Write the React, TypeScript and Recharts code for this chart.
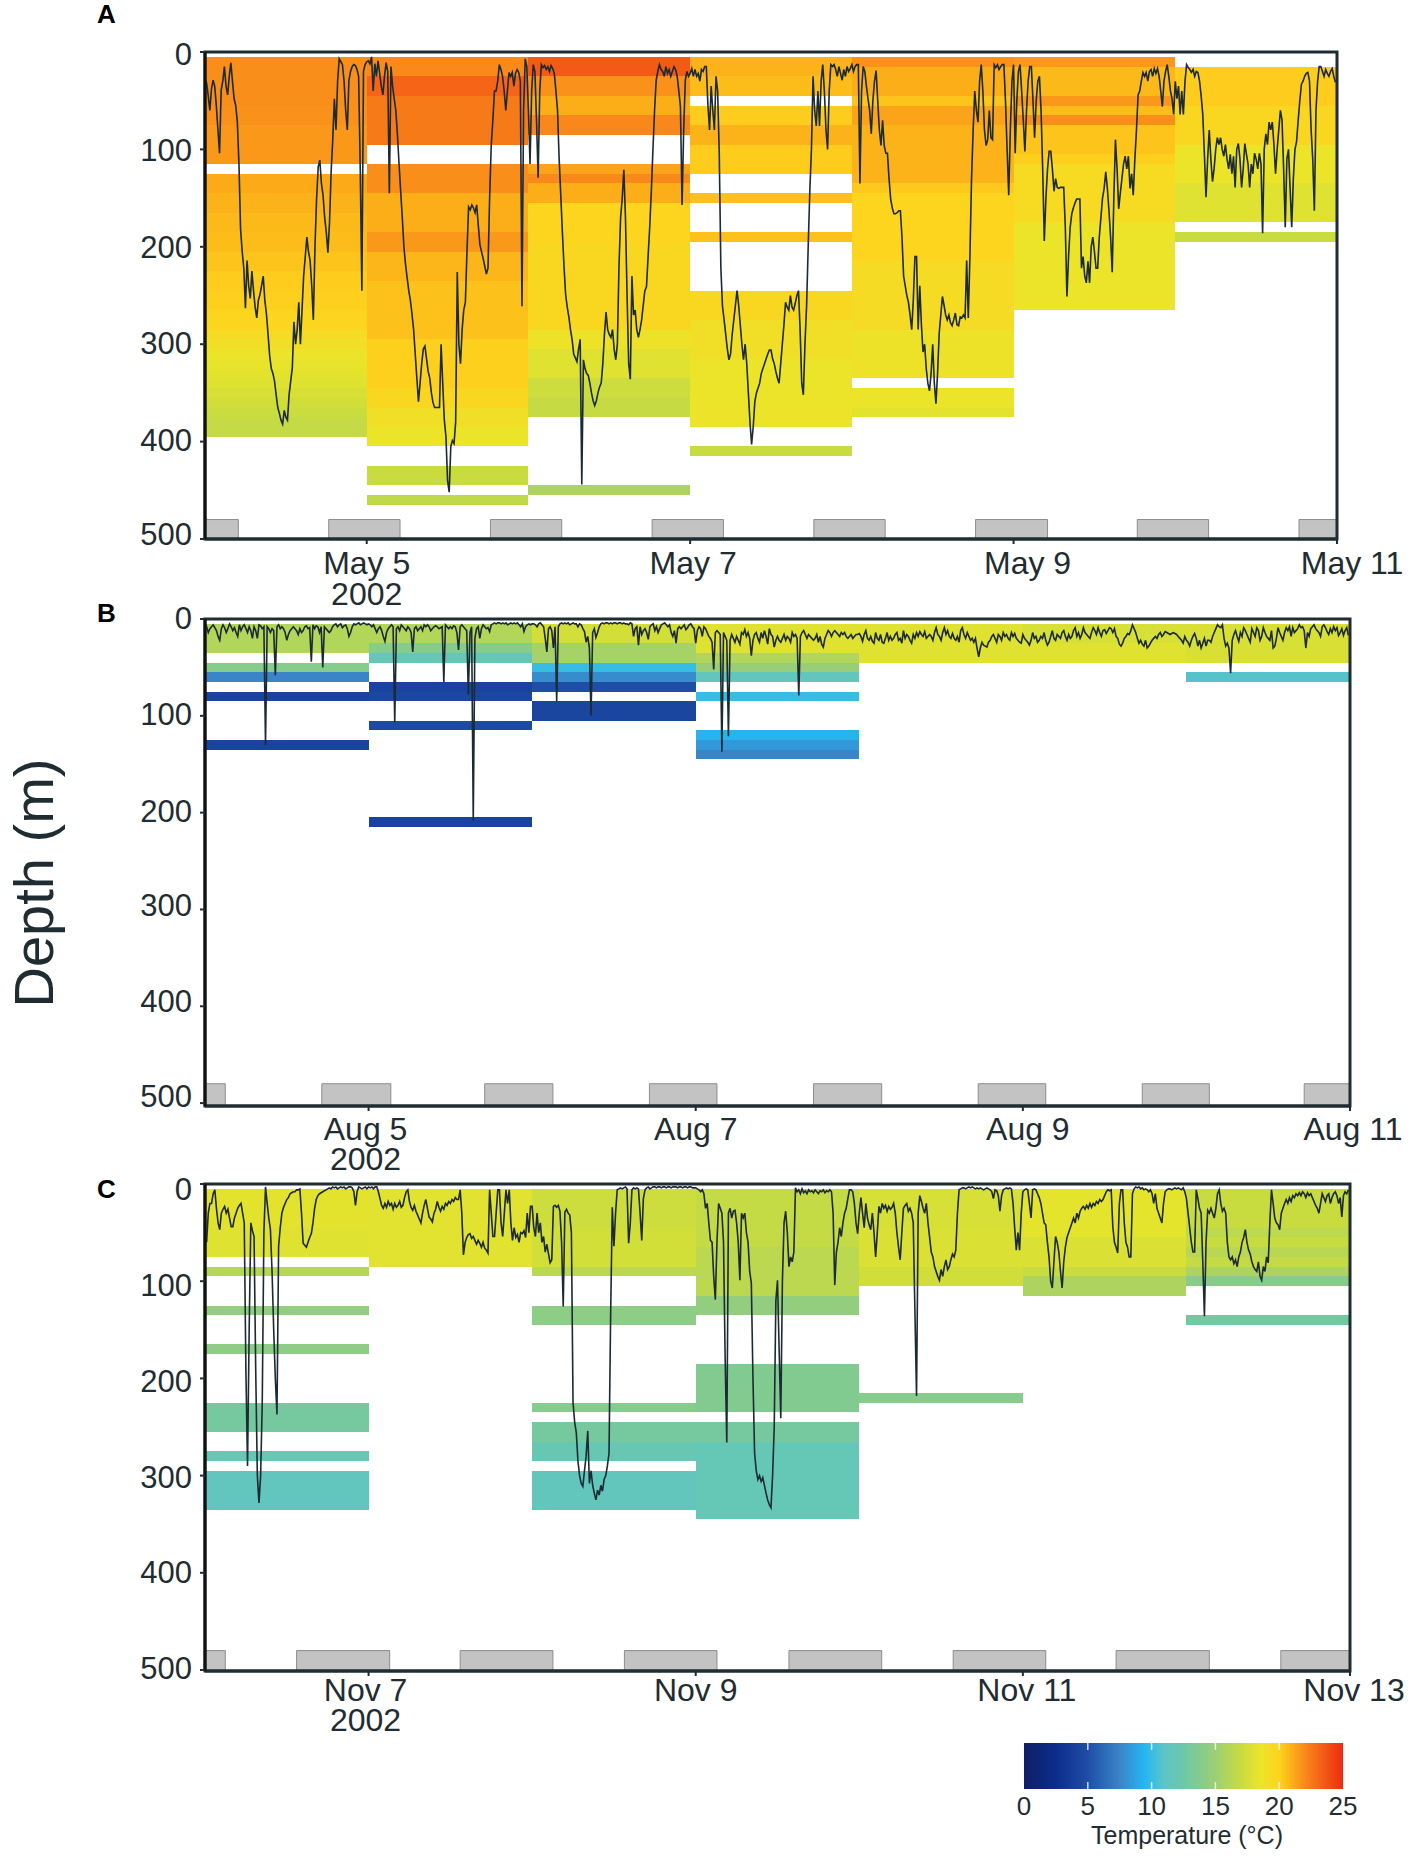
import { ComposedChart, Line, ReferenceArea, ReferenceLine, XAxis, YAxis } from "recharts";

const FONT = "'Liberation Sans', Arial, sans-serif";
const INK = "#1f2d33";

// temperature colour ramp
const rampTemps = [0, 2.5, 5, 7.5, 9.5, 11, 12.5, 15, 17, 18.5, 20, 21, 22, 25];
const rampColors = ["#0f1f66", "#0c2c8c", "#1f4ea6", "#3a84c8", "#24b8f2", "#5ec5c6", "#6cc8a8", "#9ccf74", "#c8dc40", "#eae52a", "#fdd41e", "#fcae18", "#f98a1a", "#ee2a12"];

const hex = (c: string) => [1, 3, 5].map((i) => parseInt(c.slice(i, i + 2), 16));

function tempColor(t: number) {
  let i = 0;
  while (i < rampTemps.length - 2 && t > rampTemps[i + 1]) i++;
  const f = Math.max(0, Math.min(1, (t - rampTemps[i]) / (rampTemps[i + 1] - rampTemps[i])));
  const a = hex(rampColors[i]);
  const b = hex(rampColors[i + 1]);
  return `rgb(${a.map((v, k) => Math.round(v + (b[k] - v) * f)).join(",")})`;
}

// one list per day: [top depth, bottom depth, temperature]
const bandsA = [
  [[5, 55, 21.9], [55, 75, 21.8], [75, 115, 21.6], [125, 145, 21.1], [145, 165, 20.9], [165, 185, 20.7], [185, 205, 20.6], [205, 225, 20.4], [225, 245, 20.2], [245, 265, 20.1], [265, 285, 19.9], [285, 295, 19.4], [295, 305, 19], [305, 315, 18.7], [315, 325, 18.4], [325, 335, 18.2], [335, 345, 18], [345, 355, 17.7], [355, 365, 17.4], [365, 375, 17.1], [375, 395, 16.8]],
  [[5, 25, 22], [25, 45, 23.2], [45, 95, 22.5], [115, 145, 21.9], [145, 185, 21], [185, 205, 21.6], [205, 235, 20.8], [235, 295, 20.5], [295, 345, 20.1], [345, 365, 19.7], [365, 385, 19], [385, 405, 18.6], [425, 445, 17], [455, 465, 16.6]],
  [[5, 25, 23.5], [25, 45, 21.8], [45, 65, 21], [65, 85, 22.1], [115, 125, 21.3], [125, 135, 22], [135, 155, 21], [155, 195, 20], [195, 285, 19.7], [285, 305, 18.8], [305, 335, 18], [335, 355, 17.2], [355, 375, 16.9], [445, 455, 15.8]],
  [[5, 25, 20.9], [25, 45, 20.6], [55, 75, 20.2], [75, 95, 20.9], [95, 125, 20.2], [145, 155, 20.5], [185, 195, 20.5], [245, 275, 19.7], [275, 315, 19], [315, 385, 18.6], [405, 415, 17]],
  [[5, 15, 21.8], [15, 45, 21], [45, 55, 20.4], [55, 75, 21.3], [75, 135, 20.9], [135, 145, 20.3], [145, 215, 20], [215, 285, 19.4], [285, 335, 18.8], [345, 365, 18.6], [365, 375, 18.2]],
  [[5, 15, 21.6], [15, 45, 20.7], [45, 55, 21.6], [55, 65, 20.6], [65, 75, 21.9], [75, 105, 20.4], [105, 115, 20.1], [115, 175, 19.5], [175, 265, 18.6]],
  [[15, 55, 20.2], [55, 95, 19.7], [95, 135, 18.6], [135, 175, 18], [185, 195, 17]],
];

const bandsB = [
  [[5, 35, 16], [45, 55, 13.8], [55, 65, 7.5], [75, 85, 4.2], [125, 135, 4.2]],
  [[5, 25, 16], [25, 35, 13.8], [35, 45, 11.8], [65, 75, 4.2], [75, 85, 4.5], [105, 115, 4.8], [205, 215, 4.2]],
  [[5, 25, 17.5], [25, 45, 15.5], [45, 55, 10], [55, 65, 7.8], [65, 75, 5], [85, 105, 4.4]],
  [[5, 35, 18], [35, 45, 16], [45, 55, 14.8], [55, 65, 11.5], [75, 85, 10], [115, 125, 9.3], [125, 135, 8.3], [135, 145, 7.5]],
  [[5, 45, 18]],
  [[5, 25, 17.6], [25, 45, 18]],
  [[5, 45, 17.7], [55, 65, 10.8]],
];

const bandsC = [
  [[5, 45, 18.2], [45, 75, 18], [85, 95, 16.2], [125, 135, 14.5], [165, 175, 14.2], [225, 255, 13], [275, 285, 12], [295, 335, 11.4]],
  [[5, 85, 18.1]],
  [[5, 45, 17.2], [45, 85, 17.5], [85, 95, 16.4], [125, 145, 14.2], [225, 235, 13.8], [245, 265, 13], [265, 285, 12], [295, 335, 11.5]],
  [[5, 65, 16.8], [65, 115, 16.4], [115, 135, 14.5], [185, 235, 13.6], [245, 265, 13], [265, 345, 11.8]],
  [[5, 45, 17.6], [45, 85, 17.8], [85, 105, 17.4], [215, 225, 13.8]],
  [[5, 55, 18.3], [55, 85, 17.8], [85, 95, 17], [95, 115, 15.8]],
  [[5, 45, 17], [45, 55, 16.5], [55, 65, 17], [65, 75, 16.3], [75, 85, 16.8], [85, 95, 15.8], [95, 105, 14], [135, 145, 12.8]],
];

// night periods, in days from the left edge of each panel
const nightsA = [[0, 0.206], [0.765, 1.206], [1.765, 2.206], [2.765, 3.206], [3.765, 4.206], [4.765, 5.21], [5.765, 6.206], [6.765, 7]];
const nightsB = [[0, 0.124], [0.714, 1.136], [1.71, 2.127], [2.717, 3.13], [3.72, 4.137], [4.727, 5.14], [5.73, 6.14], [6.72, 7]];
const nightsC = [[0, 0.124], [0.56, 1.129], [1.56, 2.127], [2.564, 3.13], [3.57, 4.137], [4.574, 5.14], [5.57, 6.14], [6.577, 7]];

// tag depth at even steps, one row per day
const traceA = [
  [28, 32, 45, 60, 38, 29, 35, 55, 80, 104, 39, 30, 15, 35, 44, 25, 11, 30, 48, 55, 72, 115, 182, 205, 222, 263, 214, 240, 253, 225, 245, 262, 273, 255, 249, 240, 230, 255, 269, 290, 312, 325, 330, 338, 352, 365, 371, 378, 382, 368, 375, 378, 352, 338, 324, 277, 300, 285, 257, 300, 265, 230, 210, 190, 205, 214, 240, 275, 200, 151, 118, 111, 135, 147, 170, 185, 206, 175, 123, 90, 48, 80, 30, 7, 10, 13, 30, 60, 80, 29, 20, 15, 13, 14, 18, 25, 120, 245, 20, 13],
  [10, 9, 12, 5, 40, 12, 25, 9, 22, 35, 44, 25, 11, 20, 145, 15, 35, 48, 60, 85, 115, 143, 170, 200, 218, 232, 245, 255, 269, 285, 310, 335, 359, 340, 320, 305, 302, 315, 328, 335, 350, 360, 365, 365, 365, 365, 300, 340, 378, 395, 440, 452, 405, 399, 402, 380, 226, 300, 320, 285, 265, 257, 205, 159, 162, 157, 160, 165, 157, 178, 198, 205, 212, 220, 228, 222, 150, 96, 70, 40, 40, 30, 13, 18, 25, 40, 60, 40, 21, 25, 21, 35, 22, 18, 21, 30, 261, 60, 7, 15],
  [60, 115, 40, 13, 20, 70, 129, 40, 13, 16, 14, 18, 15, 20, 14, 17, 22, 40, 60, 110, 147, 185, 220, 249, 262, 272, 285, 295, 310, 314, 318, 305, 295, 444, 316, 325, 330, 332, 340, 350, 358, 363, 358, 350, 344, 340, 320, 290, 267, 285, 290, 293, 285, 305, 316, 300, 220, 170, 150, 121, 170, 250, 320, 336, 230, 270, 265, 285, 293, 285, 275, 260, 245, 241, 210, 180, 143, 100, 60, 29, 20, 13, 18, 20, 25, 15, 22, 18, 25, 20, 15, 18, 25, 40, 56, 157, 80, 29, 20, 25],
  [22, 17, 25, 18, 25, 22, 30, 18, 20, 15, 15, 55, 80, 35, 60, 80, 25, 40, 104, 222, 261, 275, 290, 305, 316, 310, 290, 275, 260, 245, 260, 280, 300, 316, 300, 320, 350, 380, 403, 385, 359, 350, 345, 340, 330, 325, 320, 315, 310, 306, 306, 315, 320, 328, 335, 340, 320, 300, 280, 257, 262, 265, 250, 262, 265, 258, 250, 245, 285, 340, 352, 300, 261, 200, 143, 100, 25, 60, 76, 40, 76, 30, 13, 40, 80, 100, 40, 13, 15, 13, 18, 25, 15, 22, 29, 18, 25, 15, 20, 17],
  [13, 20, 15, 13, 13, 135, 40, 15, 20, 35, 48, 60, 84, 50, 30, 19, 50, 80, 96, 70, 96, 104, 104, 130, 151, 160, 166, 166, 165, 163, 163, 190, 230, 240, 250, 257, 270, 285, 255, 210, 210, 285, 240, 280, 308, 300, 325, 340, 348, 330, 300, 340, 361, 330, 289, 270, 251, 260, 270, 275, 270, 278, 281, 275, 268, 280, 281, 272, 273, 270, 273, 214, 273, 210, 131, 80, 40, 60, 72, 30, 13, 40, 80, 96, 90, 60, 88, 90, 13, 16, 13, 18, 15, 13, 13, 50, 100, 147, 80, 30],
  [13, 104, 50, 20, 13, 40, 70, 102, 60, 30, 15, 15, 50, 88, 50, 30, 25, 60, 120, 194, 150, 120, 102, 102, 120, 143, 130, 139, 140, 139, 139, 139, 180, 251, 210, 180, 166, 160, 155, 151, 151, 151, 222, 210, 230, 237, 215, 237, 200, 190, 205, 222, 222, 190, 170, 150, 140, 123, 140, 163, 190, 226, 150, 90, 120, 161, 145, 130, 115, 107, 120, 107, 140, 125, 147, 110, 80, 44, 40, 30, 21, 25, 21, 30, 20, 18, 25, 17, 22, 17, 25, 40, 56, 30, 20, 13, 25, 40, 48, 64],
  [30, 48, 35, 64, 40, 64, 30, 13, 16, 18, 21, 18, 25, 20, 21, 30, 45, 64, 105, 149, 110, 80, 110, 133, 120, 100, 88, 95, 88, 100, 107, 95, 110, 120, 105, 125, 107, 139, 100, 94, 110, 139, 120, 94, 105, 115, 139, 115, 125, 104, 110, 120, 104, 115, 186, 100, 84, 95, 72, 80, 72, 95, 125, 100, 80, 60, 70, 120, 180, 110, 100, 140, 180, 130, 100, 92, 70, 50, 33, 30, 25, 22, 21, 30, 80, 110, 163, 60, 30, 15, 15, 20, 25, 18, 22, 25, 20, 17, 25, 31],
];

const traceB = [
  [4, 8, 14, 10, 8, 6, 9, 12, 18, 22, 10, 6, 9, 14, 10, 5, 8, 12, 9, 14, 18, 6, 12, 8, 6, 10, 14, 8, 12, 20, 8, 12, 20, 6, 7, 10, 8, 130, 8, 10, 14, 10, 12, 58, 8, 6, 10, 8, 10, 14, 22, 16, 12, 10, 8, 10, 12, 16, 10, 14, 12, 8, 7, 10, 9, 44, 6, 10, 7, 8, 14, 8, 50, 8, 10, 12, 14, 12, 8, 6, 5, 8, 6, 5, 9, 7, 6, 10, 18, 14, 8, 5, 6, 5, 4, 6, 5, 4, 5, 6],
  [5, 6, 8, 6, 10, 14, 10, 8, 12, 18, 23, 14, 10, 8, 6, 8, 107, 10, 8, 12, 6, 8, 10, 12, 8, 10, 14, 34, 10, 8, 12, 10, 8, 12, 6, 8, 6, 8, 12, 10, 8, 7, 8, 10, 9, 8, 65, 6, 8, 10, 8, 10, 7, 8, 14, 32, 8, 6, 8, 10, 12, 78, 14, 8, 208, 20, 10, 8, 20, 10, 6, 8, 10, 9, 13, 6, 5, 4, 5, 4, 4, 5, 4, 5, 4, 6, 5, 4, 5, 4, 5, 4, 6, 8, 5, 13, 8, 6, 5, 6],
  [5, 5, 6, 8, 5, 4, 6, 8, 20, 34, 10, 8, 12, 30, 8, 85, 8, 5, 4, 5, 4, 5, 4, 6, 5, 4, 5, 5, 8, 5, 6, 10, 13, 24, 18, 30, 100, 14, 10, 19, 14, 8, 5, 4, 5, 4, 4, 5, 4, 5, 4, 4, 5, 4, 4, 5, 4, 5, 5, 6, 4, 5, 18, 10, 8, 27, 8, 16, 12, 10, 14, 21, 8, 6, 5, 12, 8, 14, 10, 6, 5, 4, 6, 8, 6, 14, 18, 12, 25, 10, 8, 10, 8, 6, 11, 9, 6, 5, 8, 10],
  [25, 12, 8, 10, 18, 8, 10, 14, 18, 20, 24, 52, 14, 12, 14, 16, 137, 14, 18, 22, 121, 22, 16, 20, 24, 18, 22, 26, 14, 16, 11, 18, 14, 20, 38, 22, 16, 14, 20, 24, 14, 20, 12, 18, 26, 10, 16, 18, 29, 22, 18, 22, 24, 20, 16, 22, 18, 20, 24, 14, 18, 16, 20, 79, 18, 14, 12, 16, 20, 16, 18, 20, 22, 20, 16, 24, 18, 26, 29, 20, 16, 12, 14, 18, 14, 12, 14, 16, 18, 14, 16, 14, 18, 20, 18, 16, 20, 18, 16, 16],
  [15, 18, 23, 16, 12, 20, 22, 18, 23, 25, 14, 20, 22, 16, 24, 25, 20, 14, 22, 18, 22, 20, 16, 14, 22, 20, 25, 12, 20, 16, 18, 22, 25, 16, 20, 14, 18, 13, 16, 18, 13, 20, 18, 16, 18, 22, 14, 9, 16, 18, 22, 14, 9, 16, 12, 18, 20, 15, 20, 22, 18, 24, 12, 9, 16, 20, 14, 18, 22, 20, 24, 20, 30, 39, 30, 24, 27, 28, 29, 24, 22, 18, 16, 20, 24, 16, 18, 22, 14, 18, 16, 20, 22, 14, 18, 15, 20, 22, 24, 25],
  [16, 20, 22, 24, 27, 22, 14, 20, 18, 24, 22, 18, 20, 14, 22, 27, 24, 18, 12, 20, 22, 16, 18, 20, 14, 12, 18, 22, 16, 20, 18, 12, 9, 18, 14, 20, 16, 9, 14, 16, 18, 20, 14, 9, 12, 16, 9, 14, 18, 12, 11, 15, 12, 9, 10, 14, 10, 18, 20, 26, 28, 25, 20, 18, 15, 16, 12, 6, 10, 14, 20, 25, 22, 26, 28, 22, 30, 28, 25, 22, 20, 18, 20, 16, 14, 18, 16, 13, 14, 15, 16, 15, 14, 15, 16, 18, 20, 22, 25, 18],
  [22, 24, 28, 22, 18, 15, 20, 28, 22, 30, 25, 20, 28, 22, 22, 24, 18, 14, 10, 6, 8, 9, 6, 20, 28, 25, 30, 56, 22, 16, 12, 18, 23, 14, 18, 9, 12, 16, 20, 24, 10, 14, 18, 9, 12, 22, 18, 9, 14, 18, 20, 22, 12, 30, 28, 20, 9, 14, 18, 22, 14, 9, 12, 8, 18, 9, 14, 12, 10, 6, 9, 8, 12, 30, 14, 18, 10, 8, 6, 10, 12, 14, 18, 8, 6, 9, 13, 16, 10, 14, 8, 12, 9, 17, 14, 10, 17, 12, 9, 17],
];

const traceC = [
  [59, 59, 30, 20, 20, 10, 6, 25, 40, 47, 30, 26, 23, 30, 26, 35, 44, 44, 35, 30, 25, 22, 20, 30, 40, 191, 290, 150, 40, 48, 54, 191, 300, 328, 300, 225, 50, 3, 20, 35, 47, 90, 150, 200, 237, 64, 45, 30, 24, 20, 16, 14, 10, 9, 8, 8, 6, 6, 5, 30, 61, 63, 65, 60, 55, 51, 40, 25, 16, 12, 10, 9, 8, 7, 6, 5, 4, 5, 3, 4, 3, 5, 4, 3, 4, 3, 5, 4, 3, 3, 4, 8, 22, 8, 3, 4, 5, 4, 3, 5],
  [3, 4, 3, 5, 3, 3, 8, 15, 22, 25, 20, 24, 18, 22, 20, 26, 20, 24, 22, 18, 24, 22, 14, 8, 6, 18, 24, 27, 22, 28, 32, 36, 40, 30, 22, 16, 25, 34, 36, 39, 30, 26, 18, 24, 28, 23, 26, 20, 22, 18, 20, 16, 18, 14, 16, 16, 6, 30, 73, 60, 55, 52, 51, 56, 54, 58, 62, 58, 61, 65, 60, 66, 68, 71, 6, 30, 54, 54, 30, 6, 6, 40, 54, 30, 6, 20, 6, 40, 58, 45, 55, 52, 60, 50, 51, 48, 55, 30, 50, 23],
  [23, 45, 54, 30, 50, 40, 60, 54, 70, 62, 72, 81, 78, 23, 22, 24, 22, 28, 60, 126, 29, 26, 30, 32, 50, 225, 245, 256, 285, 300, 308, 311, 295, 280, 254, 308, 295, 310, 318, 325, 315, 320, 310, 316, 304, 300, 290, 277, 133, 24, 64, 30, 6, 5, 4, 5, 4, 3, 5, 61, 40, 6, 4, 5, 4, 5, 30, 58, 15, 6, 4, 3, 5, 4, 3, 3, 4, 3, 3, 4, 3, 3, 4, 3, 3, 4, 3, 3, 3, 4, 3, 3, 4, 3, 3, 4, 3, 3, 4, 4],
  [4, 5, 6, 8, 6, 10, 25, 20, 40, 58, 60, 95, 119, 60, 20, 25, 30, 60, 180, 266, 30, 25, 35, 28, 27, 40, 60, 99, 30, 35, 30, 50, 60, 90, 102, 200, 277, 295, 304, 300, 306, 302, 310, 318, 325, 330, 333, 300, 250, 120, 99, 170, 241, 100, 40, 28, 50, 85, 75, 80, 70, 4, 8, 6, 10, 5, 9, 7, 10, 6, 8, 7, 9, 6, 8, 10, 7, 8, 6, 9, 7, 8, 6, 8, 30, 104, 70, 60, 45, 54, 40, 30, 25, 15, 6, 6, 8, 20, 40, 51],
  [30, 14, 30, 45, 20, 35, 42, 47, 30, 50, 75, 50, 23, 30, 20, 25, 22, 28, 23, 26, 24, 20, 30, 50, 65, 78, 50, 25, 22, 20, 28, 25, 30, 40, 130, 218, 30, 12, 18, 25, 30, 20, 40, 55, 70, 75, 85, 90, 95, 99, 88, 95, 85, 78, 88, 85, 78, 72, 75, 68, 30, 6, 5, 4, 4, 5, 4, 3, 4, 3, 4, 5, 4, 5, 4, 5, 6, 5, 4, 5, 6, 8, 15, 6, 7, 12, 28, 12, 6, 5, 4, 5, 4, 5, 20, 45, 68, 50, 68, 30],
  [8, 6, 5, 6, 20, 35, 6, 5, 6, 10, 14, 20, 30, 40, 42, 60, 75, 100, 107, 80, 54, 60, 70, 90, 107, 80, 65, 55, 50, 45, 40, 35, 40, 30, 35, 28, 25, 23, 26, 22, 25, 20, 24, 20, 22, 18, 20, 16, 18, 16, 12, 8, 6, 7, 6, 44, 60, 65, 71, 20, 6, 6, 40, 60, 65, 75, 75, 10, 5, 3, 4, 3, 5, 4, 6, 5, 6, 8, 6, 10, 20, 10, 25, 30, 35, 40, 20, 8, 6, 5, 5, 6, 5, 4, 5, 4, 5, 6, 4, 8],
  [15, 30, 45, 60, 70, 70, 6, 15, 25, 30, 80, 136, 60, 27, 30, 25, 30, 35, 25, 10, 6, 20, 28, 25, 30, 60, 75, 78, 75, 82, 78, 85, 75, 70, 60, 55, 47, 60, 68, 72, 80, 85, 88, 90, 80, 95, 99, 85, 90, 75, 81, 40, 6, 20, 35, 40, 42, 47, 30, 25, 20, 16, 20, 14, 18, 12, 14, 10, 12, 9, 12, 8, 10, 14, 9, 12, 10, 14, 18, 22, 25, 30, 20, 10, 14, 18, 12, 10, 20, 14, 10, 8, 12, 20, 14, 34, 12, 8, 10, 6],
];

const depthTicks = [0, 100, 200, 300, 400, 500];
const dayTicks = [1, 3, 5, 7];
const labelsA = ["May 5", "May 7", "May 9", "May 11"];
const labelsB = ["Aug 5", "Aug 7", "Aug 9", "Aug 11"];
const labelsC = ["Nov 7", "Nov 9", "Nov 11", "Nov 13"];
const barTicks = [0, 5, 10, 15, 20, 25];

const toPoints = (trace: number[][]) =>
  trace.flatMap((row, d) => row.map((depth, i) => ({ day: d + i / row.length, depth })));

type PanelProps = {
  top: number;
  height: number;
  marginTop: number;
  plotRight: number;
  axisHeight: number;
  maxDepth: number;
  bands: number[][][];
  nights: number[][];
  trace: number[][];
  labels: string[];
  labelShift: number[];
  labelDrop: number[];
  depthShift: number[];
};

function DepthPanel(p: PanelProps) {
  const points = toPoints(p.trace);
  return (
    <div style={{ position: "absolute", left: 0, top: p.top }}>
      <ComposedChart
        width={1417}
        height={p.height}
        data={points}
        margin={{ top: p.marginTop, right: 1417 - p.plotRight, bottom: 0, left: 135 }}
      >
        <XAxis
          dataKey="day"
          type="number"
          domain={[0, 7]}
          ticks={dayTicks}
          height={p.axisHeight}
          allowDataOverflow
          tickSize={5}
          axisLine={{ stroke: INK, strokeWidth: 3 }}
          tickLine={{ stroke: INK, strokeWidth: 2 }}
          tick={(t: any) => {
            const i = dayTicks.indexOf(t.payload.value);
            return (
              <text x={t.x + p.labelShift[i]} y={t.y} textAnchor="middle" fontFamily={FONT} fontSize={32} fill={INK}>
                <tspan x={t.x + p.labelShift[i]} dy={p.labelDrop[0]}>{p.labels[i]}</tspan>
                {i === 0 ? <tspan x={t.x + p.labelShift[i]} dy={p.labelDrop[1]}>2002</tspan> : null}
              </text>
            );
          }}
        />
        <YAxis
          type="number"
          dataKey="depth"
          reversed
          domain={[0, p.maxDepth]}
          ticks={depthTicks}
          width={70}
          interval={0}
          tickSize={5}
          tickMargin={8}
          axisLine={{ stroke: "#111", strokeWidth: 3 }}
          tickLine={{ stroke: INK, strokeWidth: 2 }}
          tick={(t: any) => (
            <text
              x={t.x}
              y={t.y + p.depthShift[depthTicks.indexOf(t.payload.value)]}
              dy="0.355em"
              textAnchor="end"
              fontFamily={FONT}
              fontSize={31}
              fill={INK}
            >
              {t.payload.value}
            </text>
          )}
        />
        {p.bands.map((day, d) =>
          day.map(([from, to, temp]) => (
            <ReferenceArea
              key={`${d}-${from}`}
              x1={d}
              x2={d + 1}
              y1={from}
              y2={to}
              fill={tempColor(temp)}
              fillOpacity={1}
              stroke="none"
              shapeRendering="crispEdges"
            />
          )),
        )}
        {p.nights.map(([from, to]) => (
          <ReferenceArea
            key={`night-${from}`}
            x1={from}
            x2={to}
            y1={480}
            y2={p.maxDepth}
            fill="#c3c3c3"
            fillOpacity={1}
            stroke="#8d8d8d"
            strokeWidth={1}
          />
        ))}
        <Line
          dataKey="depth"
          type="linear"
          stroke="#1c2a33"
          strokeWidth={1.6}
          dot={false}
          activeDot={false}
          isAnimationActive={false}
        />
        <ReferenceArea x1={0} x2={7} y1={0} y2={p.maxDepth} fill="none" stroke={INK} strokeWidth={3} />
      </ComposedChart>
    </div>
  );
}

function ColorBar() {
  return (
    <div style={{ position: "absolute", left: 0, top: 1737 }}>
      <ComposedChart
        width={1417}
        height={92}
        data={barTicks.map((t) => ({ t, v: 0 }))}
        margin={{ top: 6, right: 74, bottom: 0, left: 1024 }}
      >
        <defs>
          <linearGradient id="tempRamp" x1="0" y1="0" x2="1" y2="0">
            {rampTemps.map((t, i) => (
              <stop key={t} offset={`${(t / 25) * 100}%`} stopColor={rampColors[i]} />
            ))}
          </linearGradient>
        </defs>
        <XAxis
          type="number"
          dataKey="t"
          domain={[0, 25]}
          ticks={barTicks}
          height={40}
          interval={0}
          axisLine={false}
          tickLine={false}
          tickMargin={2}
          tick={{ fontFamily: FONT, fontSize: 26, fill: INK }}
        />
        <YAxis type="number" width={0} domain={[0, 1]} hide />
        <Line dataKey="v" stroke="none" dot={false} activeDot={false} isAnimationActive={false} />
        <ReferenceArea x1={0} x2={25} y1={0} y2={1} fill="url(#tempRamp)" fillOpacity={1} stroke="none" />
        {barTicks.slice(1, -1).map((t) => (
          <ReferenceLine key={`a${t}`} segment={[{ x: t, y: 0 }, { x: t, y: 0.15 }]} stroke="#fff" strokeOpacity={0.8} strokeWidth={1.5} />
        ))}
        {barTicks.slice(1, -1).map((t) => (
          <ReferenceLine key={`b${t}`} segment={[{ x: t, y: 0.85 }, { x: t, y: 1 }]} stroke="#fff" strokeOpacity={0.8} strokeWidth={1.5} />
        ))}
      </ComposedChart>
    </div>
  );
}

const letterStyle = { position: "absolute", left: 97, fontFamily: FONT, fontWeight: 700, fontSize: 26, color: "#000", lineHeight: "26px" } as const;

export default function App() {
  return (
    <div style={{ position: "absolute", left: 0, top: 0, width: 1417, height: 1860, background: "#fff", overflow: "hidden" }}>
      <DepthPanel top={0} height={629} marginTop={52} plotRight={1337} axisHeight={90} maxDepth={500} bands={bandsA} nights={nightsA} trace={traceA} labels={labelsA} labelShift={[0, 3, 14, 15]} labelDrop={[28, 31]} depthShift={[2, 1, 0, -1, -2, -5]} />
      <DepthPanel top={600} height={592} marginTop={19} plotRight={1350} axisHeight={86} maxDepth={503} bands={bandsB} nights={nightsB} trace={traceB} labels={labelsB} labelShift={[-3, 0, 5, 3]} labelDrop={[27, 30]} depthShift={[-1, -2, -2, -4, -5, -7]} />
      <DepthPanel top={1155} height={607} marginTop={29} plotRight={1350} axisHeight={91} maxDepth={501} bands={bandsC} nights={nightsC} trace={traceC} labels={labelsC} labelShift={[-3, 0, 4, 4]} labelDrop={[23, 30]} depthShift={[5, 4, 3, 1, -1, -2]} />
      <ColorBar />
      <div style={{ ...letterStyle, top: 1 }}>A</div>
      <div style={{ ...letterStyle, top: 600 }}>B</div>
      <div style={{ ...letterStyle, top: 1176 }}>C</div>
      <div
        style={{
          position: "absolute",
          left: 34,
          top: 883,
          transform: "translate(-50%, -50%) rotate(-90deg)",
          fontFamily: FONT,
          fontSize: 56,
          lineHeight: "60px",
          color: INK,
          whiteSpace: "nowrap",
        }}
      >
        Depth (m)
      </div>
      <div style={{ position: "absolute", left: 1187, top: 1835, transform: "translate(-50%, -50%)", fontFamily: FONT, fontSize: 25, color: INK, whiteSpace: "nowrap" }}>
        Temperature (°C)
      </div>
    </div>
  );
}
